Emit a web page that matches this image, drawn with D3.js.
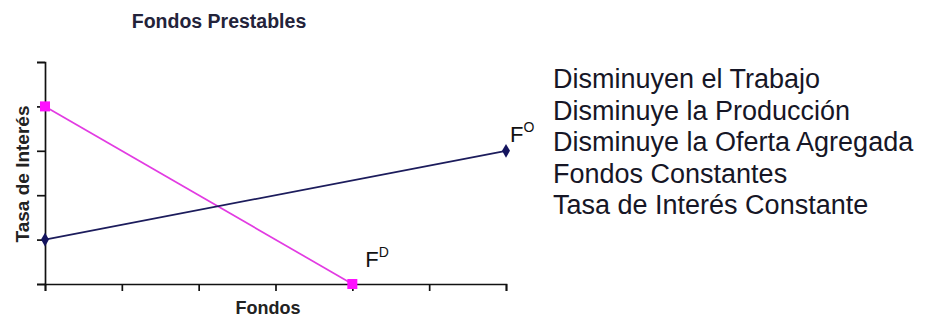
<!DOCTYPE html>
<html>
<head>
<meta charset="utf-8">
<script src="https://cdn.jsdelivr.net/npm/d3@7"></script>
<style>
  body { margin: 0; background: #fff; }
  svg { display: block; font-family: Arial, "Liberation Sans", sans-serif; }
</style>
</head>
<body>
<script>
// values
const xTicks = [0, 1, 2, 3, 4, 5, 6];
const yTicks = [0, 1, 2, 3, 4, 5];
const supplyX = [0, 6];
const supplyY = [1, 3];
const demandX = [0, 4];
const demandY = [4, 0];
const notes = [
  'Disminuyen el Trabajo',
  'Disminuye la Producción',
  'Disminuye la Oferta Agregada',
  'Fondos Constantes',
  'Tasa de Interés Constante'
];

const width = 930, height = 323;

const svg = d3.select('body').append('svg')
  .attr('width', width)
  .attr('height', height);

const x = d3.scaleLinear().domain([0, 6]).range([45, 506]);
const y = d3.scaleLinear().domain([0, 5]).range([284, 62]);

// title
svg.append('text')
  .attr('x', 219).attr('y', 28)
  .attr('text-anchor', 'middle')
  .attr('font-size', 19.5).attr('font-weight', 'bold')
  .attr('fill', '#23233a')
  .text('Fondos Prestables');

// axes
const xAxis = svg.append('g')
  .attr('transform', `translate(0,${y(0)})`)
  .call(d3.axisBottom(x).tickValues(xTicks).tickSize(7).tickFormat(''));
const yAxis = svg.append('g')
  .attr('transform', `translate(${x(0)},0)`)
  .call(d3.axisLeft(y).tickValues(yTicks).tickSize(8).tickFormat(''));
[xAxis, yAxis].forEach(a => {
  a.select('.domain').attr('stroke', '#111').attr('stroke-width', 1.7);
  a.selectAll('.tick line').attr('stroke', '#111').attr('stroke-width', 1.7);
});

// axis titles
svg.append('text')
  .attr('x', 268).attr('y', 314)
  .attr('text-anchor', 'middle')
  .attr('font-size', 18).attr('font-weight', 'bold')
  .attr('fill', '#222')
  .text('Fondos');
svg.append('text')
  .attr('transform', `translate(29,174) rotate(-90)`)
  .attr('text-anchor', 'middle')
  .attr('font-size', 19).attr('font-weight', 'bold')
  .attr('fill', '#222')
  .text('Tasa de Interés');

const line = d3.line().x(d => x(d[0])).y(d => y(d[1]));
const supply = supplyX.map((v, i) => [v, supplyY[i]]);
const demand = demandX.map((v, i) => [v, demandY[i]]);

// demand curve
svg.append('path')
  .datum(demand)
  .attr('d', line)
  .attr('fill', 'none')
  .attr('stroke', '#e23be2')
  .attr('stroke-width', 1.7);
svg.selectAll('.dpt').data(demand).enter()
  .append('rect')
  .attr('class', 'dpt')
  .attr('x', d => x(d[0]) - 5).attr('y', d => y(d[1]) - 5)
  .attr('width', 10).attr('height', 10)
  .attr('fill', '#ff10ff');

// supply curve
svg.append('path')
  .datum(supply)
  .attr('d', line)
  .attr('fill', 'none')
  .attr('stroke', '#1c1c5c')
  .attr('stroke-width', 1.7);
svg.selectAll('.spt').data(supply).enter()
  .append('path')
  .attr('class', 'spt')
  .attr('transform', d => `translate(${x(d[0])},${y(d[1])})`)
  .attr('d', d3.symbol(d3.symbolDiamond, 55))
  .attr('fill', '#14145e');

// curve labels
function curveLabel(px, py, sup) {
  const t = svg.append('text')
    .attr('x', px).attr('y', py)
    .attr('font-size', 22).attr('fill', '#111');
  t.append('tspan').text('F');
  t.append('tspan').attr('font-size', 14).attr('dy', -10).text(sup);
}
curveLabel(x(6) + 4, y(3) - 9, 'O');
curveLabel(x(4) + 13, y(0) - 17, 'D');

// notes
svg.append('g').selectAll('text').data(notes).enter()
  .append('text')
  .attr('x', 553)
  .attr('y', (d, i) => 88 + i * 31.5)
  .attr('font-size', 27)
  .attr('fill', '#161626')
  .text(d => d);
</script>
</body>
</html>
